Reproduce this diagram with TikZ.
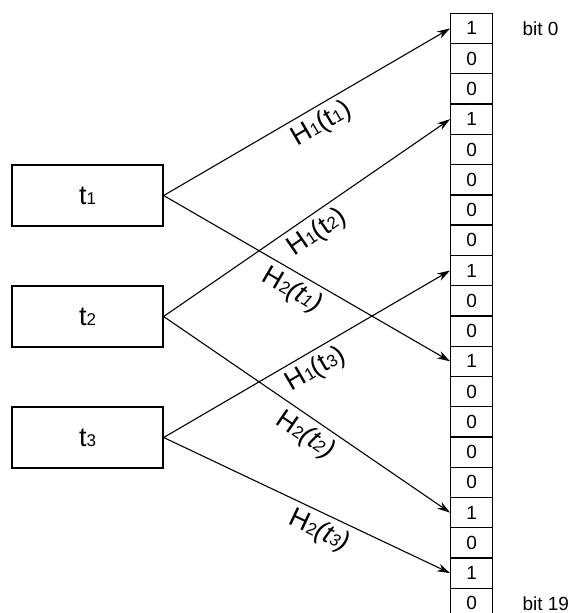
\documentclass[tikz,border=0pt]{standalone}
\usepackage{fontspec}
\setmainfont{Liberation Sans}
\usetikzlibrary{arrows.meta}
% subscript-style digits: smaller, sitting on the baseline
\newcommand{\sbs}[1]{{\fontsize{17}{17}\selectfont #1}}
\begin{document}
\begin{tikzpicture}[x=1pt,y=-1pt,
  rec/.style={draw, line width=1.3pt, minimum width=151pt, minimum height=61pt,
    inner sep=0pt, font=\fontsize{27}{27}\selectfont},
  cell/.style={draw, line width=1.3pt, minimum width=42pt, minimum height=30.26pt,
    inner sep=0pt, font=\fontsize{19}{19}\selectfont},
  hash/.style={-{Stealth[length=13pt,width=8pt]}, line width=1.1pt},
  lab/.style={font=\fontsize{27}{27}\selectfont, sloped, below, inner sep=5pt},
  bitlab/.style={anchor=west, inner sep=0pt, font=\fontsize{19}{19}\selectfont}]
\useasboundingbox (0,0) rectangle (572,613);

% input elements
\node[rec] (t1) at (87.5,195.5) {t\sbs{1}};
\node[rec] (t2) at (87.5,316.5) {t\sbs{2}};
\node[rec] (t3) at (87.5,437.5) {t\sbs{3}};

% bit array
\foreach \v [count=\i from 0] in {1,0,0,1,0,0,0,0,1,0,0,1,0,0,0,0,1,0,1,0}
  \node[cell] (b\i) at (471.7,{13.3+30.26*(\i+0.5)}) {\v};

\node[bitlab] (bitA) at ([xshift=29pt]b0.east) {bit 0};
\node[bitlab] (bitB) at ([xshift=29pt]b19.east) {bit 19};

% hash functions
\draw[hash] (t1.east) -- node[lab, pos=0.52] {H\sbs{1}(t\sbs{1})} (b0.west);
\draw[hash] (t1.east) -- node[lab, pos=0.48] {H\sbs{2}\textit{(t\sbs{1})}} (b11.west);
\draw[hash] (t2.east) -- node[lab, pos=0.50] {H\sbs{1}(t\sbs{2})} (b3.west);
\draw[hash] (t2.east) -- node[lab, pos=0.53] {H\sbs{2}\textit{(t\sbs{2})}} (b16.west);
\draw[hash] (t3.east) -- node[lab, pos=0.50] {H\sbs{1}(t\sbs{3})} (b8.west);
\draw[hash] (t3.east) -- node[lab, pos=0.57] {H\sbs{2}\textit{(t\sbs{3})}} (b18.west);
\end{tikzpicture}
\end{document}
